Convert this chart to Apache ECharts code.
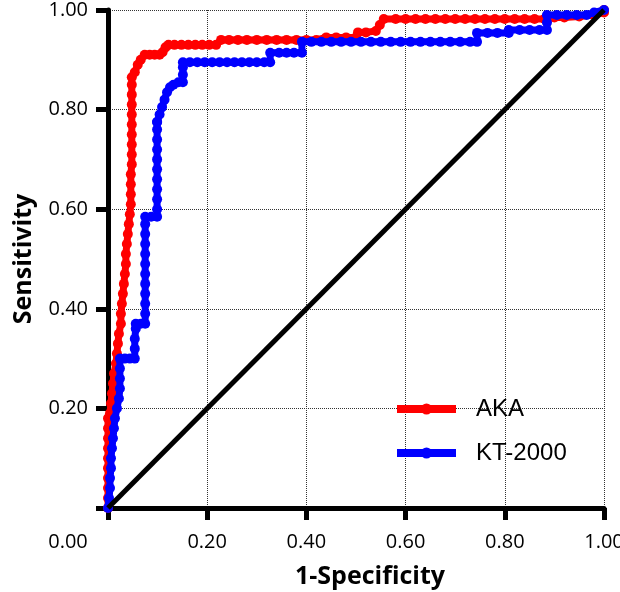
<!DOCTYPE html>
<html>
<head>
<meta charset="utf-8">
<script src="https://cdn.jsdelivr.net/npm/echarts@6/dist/echarts.min.js"></script>
<style>
html,body{margin:0;padding:0;background:#fff;}
#chart{width:620px;height:592px;}
</style>
</head>
<body>
<div id="chart"></div>
<script>
// ---- data ----
const seriesNames = ['AKA', 'KT-2000'];
const xTickLabels = ['0.00', '0.20', '0.40', '0.60', '0.80', '1.00'];
const yTickLabels = ['', '0.20', '0.40', '0.60', '0.80', '1.00'];

const akaFpr = [0,0,0,0,0,0,0,0,0,0,
  0.004,0.006,0.008,0.010,0.012,0.016,0.018,0.020,0.022,0.026,
  0.026,0.028,0.030,0.032,0.034,0.036,0.036,0.038,0.040,0.042,
  0.044,0.046,0.046,0.046,0.046,0.048,0.048,0.048,0.048,0.048,
  0.048,0.048,0.048,0.048,0.048,0.054,0.060,0.066,0.074,0.084,
  0.094,0.104,0.110,0.116,0.122,0.134,0.148,0.162,0.176,0.190,
  0.204,0.218,0.228,0.244,0.262,0.280,0.300,0.320,0.340,0.360,
  0.380,0.400,0.420,0.440,0.460,0.480,0.500,0.504,0.520,0.540,
  0.548,0.556,0.580,0.600,0.620,0.640,0.660,0.680,0.700,0.720,
  0.740,0.760,0.780,0.800,0.820,0.840,0.860,0.880,0.900,0.920,
  0.950,0.980,1.000,1.000];
const akaTpr = [0,0.02,0.04,0.06,0.08,0.10,0.12,0.14,0.16,0.18,
  0.19,0.21,0.23,0.25,0.27,0.29,0.31,0.33,0.35,0.37,
  0.39,0.41,0.43,0.45,0.47,0.49,0.51,0.53,0.55,0.57,
  0.59,0.61,0.63,0.65,0.67,0.69,0.71,0.73,0.75,0.77,
  0.79,0.81,0.83,0.85,0.865,0.875,0.89,0.90,0.91,0.91,
  0.91,0.91,0.915,0.925,0.93,0.93,0.93,0.93,0.93,0.93,
  0.93,0.93,0.94,0.94,0.94,0.94,0.94,0.94,0.94,0.94,
  0.94,0.94,0.94,0.945,0.945,0.945,0.945,0.955,0.955,0.958,
  0.97,0.982,0.982,0.982,0.982,0.982,0.982,0.982,0.982,0.982,
  0.982,0.982,0.982,0.982,0.982,0.982,0.982,0.982,0.985,0.985,
  0.987,0.99,0.995,1.0];

const ktFpr = [0,0.002,0.004,0.004,0.006,0.006,0.008,0.010,0.012,0.014,
  0.018,0.022,0.024,0.024,0.024,0.024,0.034,0.044,0.054,0.054,
  0.054,0.056,0.056,0.066,0.075,0.075,0.075,0.075,0.075,0.075,
  0.075,0.075,0.075,0.075,0.075,0.075,0.087,0.099,0.099,0.099,
  0.099,0.099,0.099,0.099,0.099,0.099,0.099,0.099,0.099,0.104,
  0.109,0.114,0.119,0.125,0.132,0.142,0.151,0.151,0.151,0.151,
  0.165,0.180,0.195,0.210,0.225,0.240,0.255,0.270,0.285,0.300,
  0.315,0.327,0.327,0.345,0.360,0.375,0.391,0.391,0.410,0.430,
  0.450,0.470,0.490,0.510,0.530,0.550,0.570,0.590,0.610,0.630,
  0.650,0.670,0.690,0.710,0.730,0.744,0.744,0.765,0.785,0.808,
  0.808,0.830,0.850,0.870,0.885,0.885,0.885,0.905,0.925,0.945,
  0.965,0.980,1.000];
const ktTpr = [0,0.02,0.04,0.06,0.08,0.10,0.12,0.14,0.16,0.18,
  0.20,0.22,0.24,0.26,0.28,0.30,0.30,0.30,0.30,0.32,
  0.34,0.36,0.37,0.37,0.37,0.39,0.41,0.43,0.45,0.47,
  0.49,0.51,0.53,0.55,0.57,0.585,0.585,0.585,0.60,0.62,
  0.64,0.66,0.68,0.70,0.72,0.74,0.76,0.775,0.775,0.79,
  0.805,0.82,0.835,0.845,0.85,0.855,0.855,0.87,0.885,0.895,
  0.895,0.895,0.895,0.895,0.895,0.895,0.895,0.895,0.895,0.895,
  0.895,0.895,0.914,0.914,0.914,0.914,0.914,0.936,0.936,0.936,
  0.936,0.936,0.936,0.936,0.936,0.936,0.936,0.936,0.936,0.936,
  0.936,0.936,0.936,0.936,0.936,0.936,0.954,0.954,0.954,0.954,
  0.96,0.96,0.96,0.96,0.96,0.975,0.99,0.99,0.99,0.99,
  0.99,0.995,1.0];

const refX = [0, 1];
const refY = [0, 1];

const zip = (xs, ys) => xs.map((x, i) => [x, ys[i]]);

const chart = echarts.init(document.getElementById('chart'), null, {renderer: 'canvas'});
const tickFont = 'Open Sans';

chart.setOption({
  animation: false,
  backgroundColor: '#fff',
  grid: {left: 108, right: 16, top: 10, bottom: 84, containLabel: false, outerBoundsMode: 'none'},
  xAxis: {
    type: 'value', min: 0, max: 1, interval: 0.2,
    name: '1-Specificity', nameLocation: 'middle', nameGap: 56,
    nameTextStyle: {fontFamily: tickFont, fontWeight: 'bold', fontSize: 25, color: '#000', padding: [0, 0, 0, 28]},
    axisLine: {show: true, onZero: false, lineStyle: {color: '#000', width: 5}},
    axisTick: {show: true, length: 12, lineStyle: {color: '#000', width: 5}},
    splitLine: {show: true, lineStyle: {type: 'dotted', color: '#333', width: 1}},
    axisLabel: {
      margin: 24, color: '#000', fontFamily: tickFont, fontSize: 20,
      formatter: function (v) {
        const i = Math.round(v / 0.2);
        if (i === 0) return '{z|' + xTickLabels[0] + '}';
        return xTickLabels[i];
      },
      rich: {z: {fontFamily: tickFont, fontSize: 20, color: '#000', padding: [0, 80, 0, 0]}}
    }
  },
  yAxis: {
    type: 'value', min: 0, max: 1, interval: 0.2,
    name: 'Sensitivity', nameLocation: 'middle', nameGap: 72,
    nameTextStyle: {fontFamily: tickFont, fontWeight: 'bold', fontSize: 25, color: '#000'},
    axisLine: {show: true, onZero: false, lineStyle: {color: '#000', width: 5}},
    axisTick: {show: true, length: 12, lineStyle: {color: '#000', width: 5}},
    splitLine: {show: true, lineStyle: {type: 'dotted', color: '#333', width: 1}},
    axisLabel: {
      margin: 20, color: '#000', fontFamily: tickFont, fontSize: 20,
      formatter: function (v) { return yTickLabels[Math.round(v / 0.2)]; }
    }
  },
  legend: {
    data: seriesNames,
    orient: 'vertical', left: 388, top: 392,
    itemWidth: 59, itemHeight: 14, itemGap: 20,
    lineStyle: {width: 8},
    textStyle: {fontFamily: 'Liberation Sans', fontSize: 24, color: '#000', padding: [0, 0, 0, 15]}
  },
  series: [
    {
      name: seriesNames[0], type: 'line', data: zip(akaFpr, akaTpr),
      symbol: 'circle', symbolSize: 10, showAllSymbol: true,
      itemStyle: {color: '#ff0000'}, lineStyle: {color: '#ff0000', width: 7}, z: 2
    },
    {
      name: seriesNames[1], type: 'line', data: zip(ktFpr, ktTpr),
      symbol: 'circle', symbolSize: 10, showAllSymbol: true,
      itemStyle: {color: '#0000ff'}, lineStyle: {color: '#0000ff', width: 7}, z: 3
    },
    {
      name: 'reference', type: 'line', data: zip(refX, refY),
      symbol: 'none', lineStyle: {color: '#000', width: 5}, z: 4, silent: true
    }
  ]
});
</script>
</body>
</html>
